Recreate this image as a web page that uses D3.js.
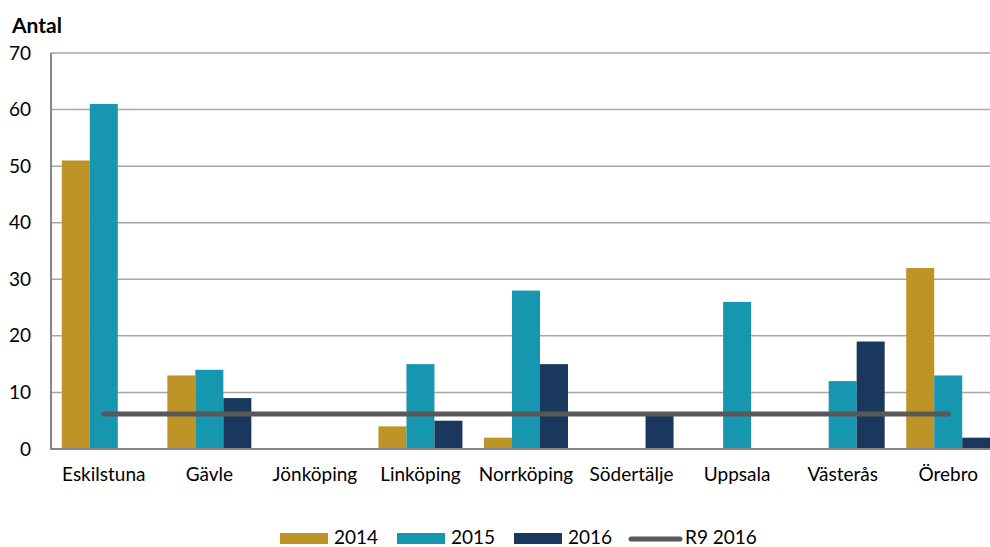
<!DOCTYPE html>
<html>
<head>
<meta charset="utf-8">
<script src="https://cdn.jsdelivr.net/npm/d3@7"></script>
<style>
  body { margin: 0; background: #fff; overflow: hidden; }
  text { font-family: Lato, "Open Sans", sans-serif; fill: #000; }
</style>
</head>
<body>
<div id="chartHolder"></div>
<script>
// data
const cities = ["Eskilstuna", "Gävle", "Jönköping", "Linköping", "Norrköping", "Södertälje", "Uppsala", "Västerås", "Örebro"];
const years = ["2014", "2015", "2016"];
const v2014 = [51, 13, 0, 4, 2, 0, 0, 0, 32];
const v2015 = [61, 14, 0, 15, 28, 0, 26, 12, 13];
const v2016 = [0, 9, 0, 5, 15, 6, 0, 19, 2];
const r9 = 6.2;
const yTicks = [0, 10, 20, 30, 40, 50, 60, 70];

const colors = { "2014": "#BF9426", "2015": "#1796B0", "2016": "#1A375E" };
const lineColor = "#595959";
const fSize = "19px";

const w = 990, h = 547;
const mLeft = 51, mRight = 1001, mTop = 53, mBottom = 449;

const svg = d3.select("#chartHolder").append("svg")
  .attr("width", w)
  .attr("height", h)
  .style("display", "block");

const x = d3.scaleBand().domain(cities).range([mLeft, mRight]);
const xIn = d3.scaleBand().domain(years).range([0, 84]);
const y = d3.scaleLinear().domain([0, 70]).range([mBottom, mTop]);

// gridlines
svg.append("g")
  .selectAll("line")
  .data(yTicks.filter(d => d > 0))
  .enter().append("line")
  .attr("x1", mLeft).attr("x2", mRight)
  .attr("y1", d => y(d)).attr("y2", d => y(d))
  .attr("stroke", "#A6A6A6")
  .attr("stroke-width", 1.5);

// tick labels
const yAxis = svg.append("g")
  .attr("transform", "translate(" + mLeft + ",0)")
  .call(d3.axisLeft(y).tickValues(yTicks).tickSize(0).tickPadding(20));
yAxis.select(".domain").remove();
yAxis.selectAll("text")
  .style("font-size", fSize)
  .style("font-family", "Lato, 'Open Sans', sans-serif")
  .attr("fill", "#000");

// bars
const series = { "2014": v2014, "2015": v2015, "2016": v2016 };
years.forEach(yr => {
  svg.append("g")
    .selectAll("rect")
    .data(series[yr].map((v, i) => ({ city: cities[i], v: v })))
    .enter().append("rect")
    .attr("x", d => x(d.city) + (x.bandwidth() - 84) / 2 + xIn(yr))
    .attr("width", xIn.bandwidth())
    .attr("y", d => y(d.v))
    .attr("height", d => y(0) - y(d.v))
    .attr("fill", colors[yr]);
});

// axes lines
svg.append("line")
  .attr("x1", mLeft).attr("x2", mLeft)
  .attr("y1", mTop).attr("y2", mBottom)
  .attr("stroke", "#868686").attr("stroke-width", 2);
svg.append("line")
  .attr("x1", mLeft - 1).attr("x2", mRight)
  .attr("y1", mBottom).attr("y2", mBottom)
  .attr("stroke", "#868686").attr("stroke-width", 2);

// R9 line
const line = d3.line()
  .x(d => x(d) + x.bandwidth() / 2)
  .y(() => y(r9));
svg.append("path")
  .datum(cities)
  .attr("d", line)
  .attr("fill", "none")
  .attr("stroke", lineColor)
  .attr("stroke-width", 5)
  .attr("stroke-linecap", "round");

// category labels
const xAxis = svg.append("g")
  .attr("transform", "translate(0," + mBottom + ")")
  .call(d3.axisBottom(x).tickSize(0).tickPadding(19));
xAxis.select(".domain").remove();
xAxis.selectAll("text")
  .style("font-size", fSize)
  .style("font-family", "Lato, 'Open Sans', sans-serif")
  .attr("fill", "#000");

// title
svg.append("text")
  .attr("x", 12).attr("y", 33)
  .style("font-size", "21px")
  .style("font-weight", "bold")
  .text("Antal");

// legend
const legItems = [
  { name: "2014", x: 280, type: "rect" },
  { name: "2015", x: 397, type: "rect" },
  { name: "2016", x: 514, type: "rect" },
  { name: "R9 2016", x: 629, type: "line" }
];
const legend = svg.selectAll(".legend")
  .data(legItems)
  .enter().append("g")
  .attr("class", "legend")
  .attr("transform", d => "translate(" + d.x + ",533)");
legend.filter(d => d.type === "rect").append("rect")
  .attr("width", 48).attr("height", 11)
  .attr("fill", d => colors[d.name]);
legend.filter(d => d.type === "line").append("line")
  .attr("x1", 2).attr("x2", 51)
  .attr("y1", 6).attr("y2", 6)
  .attr("stroke", lineColor).attr("stroke-width", 5)
  .attr("stroke-linecap", "round");
legend.append("text")
  .attr("x", d => d.type === "rect" ? 54 : 56)
  .attr("y", 11)
  .style("font-size", fSize)
  .text(d => d.name);
</script>
</body>
</html>
